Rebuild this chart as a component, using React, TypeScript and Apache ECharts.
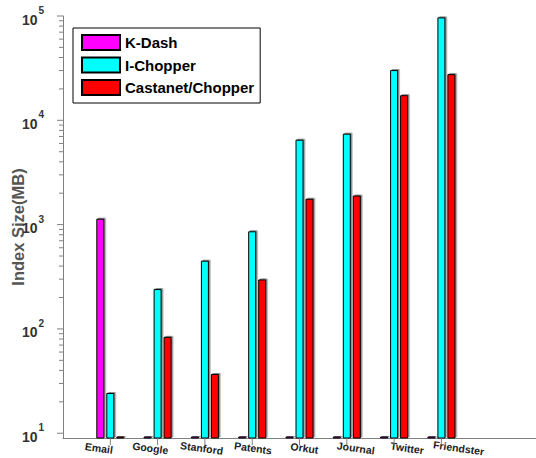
import React, { useEffect, useRef } from 'react';
import * as echarts from 'echarts';

const categories = ['Email', 'Google', 'Stanford', 'Patents', 'Orkut', 'Journal', 'Twitter', 'Friendster'];
const seriesNames = ['K-Dash', 'I-Chopper', 'Castanet/Chopper'];
const kDash = [1140, 9.3, 9.3, 9.3, 9.3, 9.3, 9.3, 9.3];
const iChopper = [24.3, 241, 451, 863, 6520, 7450, 30300, 97000];
const castanet = [9.3, 84, 37, 298, 1770, 1900, 17400, 27700];
const colors = ['#ff00ff', '#00ffff', '#ff0000'];
const majorTicks = [10, 100, 1000, 10000, 100000];
const minorSteps = [2, 3, 4, 5, 6, 7, 8, 9];
const yMin = 9;
const yMax = 100000;
const xMin = 0;
const xMax = 10;

const FONT = "'Liberation Sans', Arial, Helvetica, sans-serif";

export default function App() {
  const ref = useRef<HTMLDivElement>(null);

  useEffect(() => {
    if (!ref.current) return;
    const chart = echarts.init(ref.current, undefined, { renderer: 'svg' });

    // [x, y, kind(0 = y tick, 1 = x tick), length]
    const tickData: number[][] = [];
    majorTicks.forEach((m, i) => {
      tickData.push([xMin, m, 0, 6]);
      if (i < majorTicks.length - 1) {
        minorSteps.forEach((s) => tickData.push([xMin, m * s, 0, 4]));
      }
    });
    categories.forEach((_, i) => tickData.push([i + 1, yMin, 1, 7]));

    const barStyle = (c: string) => ({
      color: c,
      borderColor: '#000',
      borderWidth: 1,
      shadowColor: 'rgba(0,0,0,0.45)',
      shadowOffsetX: 1.5,
      shadowOffsetY: -1,
      shadowBlur: 1,
    });

    const values = [kDash, iChopper, castanet];

    const option: any = {
      animation: false,
      textStyle: { fontFamily: FONT },
      legend: {
        data: seriesNames,
        orient: 'vertical',
        left: 73,
        top: 28,
        itemWidth: 38,
        itemHeight: 15,
        itemGap: 5.5,
        padding: [6, 6, 7, 8],
        borderColor: '#000',
        borderWidth: 1,
        backgroundColor: '#fff',
        icon: 'rect',
        textStyle: { fontFamily: FONT, fontSize: 15, fontWeight: 'bold', color: '#000' },
      },
      grid: [
        { left: 63, right: 0, top: 16, bottom: 20, containLabel: false, outerBoundsMode: 'none' },
        { left: 74, width: 411, top: 16, bottom: 20, containLabel: false, outerBoundsMode: 'none' },
      ],
      xAxis: [
        {
          type: 'value',
          gridIndex: 0,
          min: xMin,
          max: xMax,
          interval: 1,
          axisLine: { show: true, lineStyle: { color: '#808080', width: 1 } },
          axisTick: { show: false },
          axisLabel: { show: false },
          splitLine: { show: false },
        },
        {
          type: 'category',
          gridIndex: 1,
          data: categories,
          boundaryGap: true,
          axisLine: { show: false },
          axisTick: { show: false },
          axisLabel: {
            show: true,
            interval: 0,
            rotate: -8,
            align: 'center',
            verticalAlign: 'top',
            margin: 5,
            fontFamily: FONT,
            fontSize: 10.5,
            fontWeight: 'bold',
            color: '#222',
          },
          splitLine: { show: false },
        },
      ],
      yAxis: [
        {
          type: 'log',
          gridIndex: 0,
          logBase: 10,
          min: yMin,
          max: yMax,
          name: 'Index Size(MB)',
          nameLocation: 'middle',
          nameGap: 37,
          nameMoveOverlap: false,
          nameTextStyle: { fontFamily: FONT, fontSize: 16.5, fontWeight: 'bold', color: '#555' },
          axisLine: { show: true, lineStyle: { color: '#808080', width: 1 } },
          axisTick: { show: false },
          splitLine: { show: false },
          axisLabel: {
            margin: 19,
            formatter: (v: number) => {
              const e = Math.log10(v);
              const r = Math.round(e);
              if (Math.abs(e - r) > 1e-6) return '';
              return `{b|10}{s|${r}}`;
            },
            rich: {
              b: { fontFamily: FONT, fontSize: 14, fontWeight: 'bold', color: '#333', padding: [7, 0, 0, 0] },
              s: { fontFamily: FONT, fontSize: 10, fontWeight: 'bold', color: '#333', verticalAlign: 'top', padding: [0, 0, 0, 1] },
            },
          },
        },
        { type: 'value', gridIndex: 1, show: false },
      ],
      series: [
        ...seriesNames.map((name, i) => ({
          name,
          type: 'bar',
          xAxisIndex: 0,
          yAxisIndex: 0,
          data: values[i].map((v, k) => [k + 1, v]),
          barWidth: 8,
          barGap: '25%',
          itemStyle: barStyle(colors[i]),
        })),
        {
          type: 'custom',
          name: 'ticks',
          xAxisIndex: 0,
          yAxisIndex: 0,
          silent: true,
          clip: false,
          z: 10,
          data: tickData,
          encode: { x: 0, y: 1 },
          renderItem: (params: any, api: any) => {
            const cs = params.coordSys;
            const kind = api.value(2);
            const len = api.value(3);
            if (kind === 0) {
              const y = api.coord([xMin, api.value(1)])[1];
              return {
                type: 'line',
                shape: { x1: cs.x - len, y1: y, x2: cs.x, y2: y },
                style: { stroke: '#808080', lineWidth: 1 },
              };
            }
            const x = api.coord([api.value(0), yMin])[0];
            const yb = cs.y + cs.height;
            return {
              type: 'line',
              shape: { x1: x, y1: yb, x2: x, y2: yb + len },
              style: { stroke: '#808080', lineWidth: 1 },
            };
          },
        },
      ],
    };

    chart.setOption(option);
    return () => chart.dispose();
  }, []);

  return (
    <div
      ref={ref}
      style={{ position: 'fixed', left: 0, top: 0, width: 536, height: 458, background: '#fff' }}
    />
  );
}
